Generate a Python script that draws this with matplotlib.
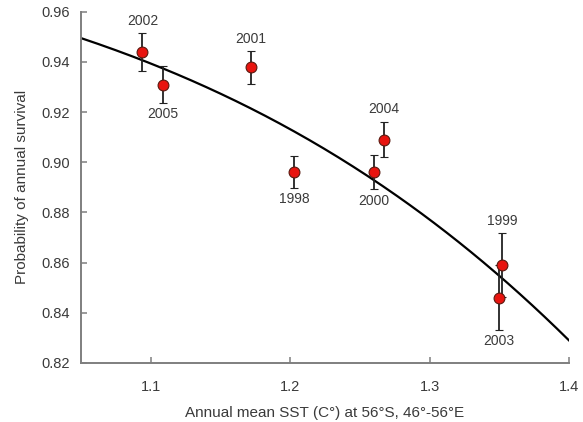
import numpy as np
import matplotlib
matplotlib.use("Agg")
import matplotlib.pyplot as plt

plt.rcParams['font.family'] = ['Liberation Sans', 'DejaVu Sans']

# Annual survival estimates by year against sea surface temperature
years = ["2002", "2005", "2001", "1998", "2000", "2004", "1999", "2003"]
sst = [1.094, 1.109, 1.172, 1.203, 1.260, 1.267, 1.352, 1.350]
survival = [0.944, 0.931, 0.938, 0.896, 0.896, 0.909, 0.859, 0.846]
err_lower = [0.0075, 0.0072, 0.0068, 0.0063, 0.0068, 0.0070, 0.0127, 0.0130]
err_upper = [0.0075, 0.0072, 0.0063, 0.0064, 0.0070, 0.0072, 0.0127, 0.0130]
label_above = [True, False, True, False, False, True, True, False]

# Logit-linear fit: logit(p) = intercept + slope * SST
fit_intercept = 7.002
fit_slope = -3.874

x_ticks = [1.1, 1.2, 1.3, 1.4]
y_ticks = [0.82, 0.84, 0.86, 0.88, 0.90, 0.92, 0.94, 0.96]

text_color = "#3a3a3a"
spine_color = "#7f7f7f"

fig = plt.figure(figsize=(5.83, 4.22), dpi=100)
ax = fig.add_axes([0.139, 0.140, 0.837, 0.832])

xs = np.linspace(1.05, 1.4, 200)
ax.plot(xs, 1.0 / (1.0 + np.exp(-(fit_intercept + fit_slope * xs))),
        color="black", lw=1.6, zorder=2)

ax.errorbar(sst, survival, yerr=[err_lower, err_upper], fmt="o",
            color="#222222", ecolor="#222222", elinewidth=1.3, capsize=2.6,
            capthick=1.1, markersize=7.8, markerfacecolor="#e8140f",
            markeredgecolor="#5a1a10", markeredgewidth=0.8, zorder=3)

for yr, x, y, lo, hi, above in zip(years, sst, survival, err_lower, err_upper, label_above):
    if above:
        ax.annotate(yr, (x, y + hi), xytext=(0, 4), textcoords="offset points",
                    ha="center", va="bottom", fontsize=10, color=text_color)
    else:
        ax.annotate(yr, (x, y - lo), xytext=(0, -3), textcoords="offset points",
                    ha="center", va="top", fontsize=10, color=text_color)

ax.set_xlim(1.05, 1.4)
ax.set_ylim(0.82, 0.96)
ax.set_xticks(x_ticks)
ax.set_xticklabels([f"{v:.1f}" for v in x_ticks])
ax.set_yticks(y_ticks)
ax.set_yticklabels([f"{v:.2f}" for v in y_ticks])

for side in ("top", "right"):
    ax.spines[side].set_visible(False)
for side in ("left", "bottom"):
    ax.spines[side].set_color(spine_color)
    ax.spines[side].set_linewidth(1.4)

ax.tick_params(direction="in", length=4, width=1.1, color=spine_color,
               labelsize=10.5, labelcolor=text_color, pad=8)
ax.tick_params(axis="x", pad=12)

ax.set_xlabel("Annual mean SST (C°) at 56°S, 46°-56°E", fontsize=11,
              color=text_color, labelpad=9)
ax.set_ylabel("Probability of annual survival", fontsize=11,
              color=text_color, labelpad=9)

fig.savefig("out.png", dpi=100)
